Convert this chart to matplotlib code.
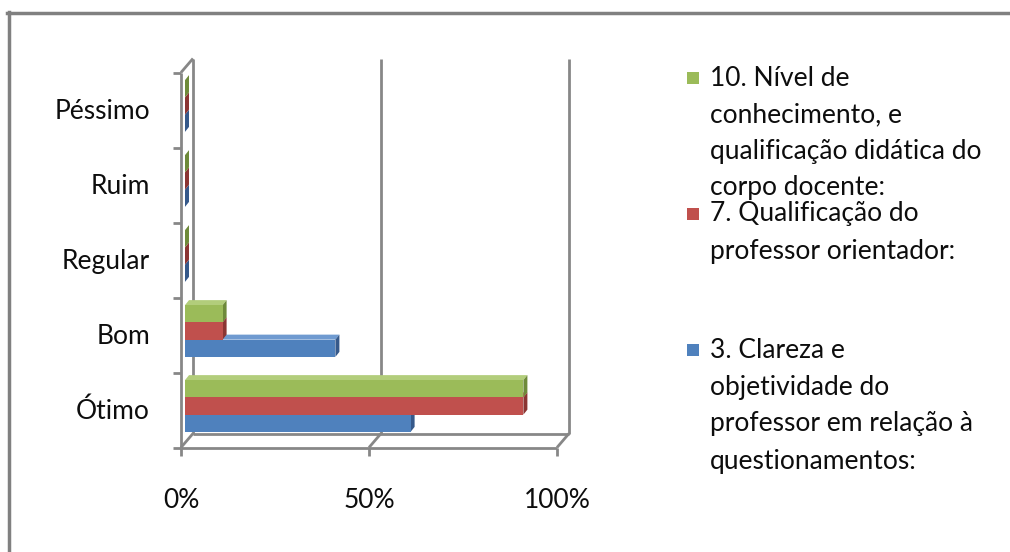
import matplotlib
matplotlib.use("Agg")
import matplotlib.pyplot as plt
from matplotlib.patches import Polygon
from matplotlib.lines import Line2D

# ---- data ----
categories = ["Ótimo", "Bom", "Regular", "Ruim", "Péssimo"]
series_names = [
    "3. Clareza e\nobjetividade do\nprofessor em relação à\nquestionamentos:",
    "7. Qualificação do\nprofessor orientador:",
    "10. Nível de\nconhecimento, e\nqualificação didática do\ncorpo docente:",
]
clareza = [60, 40, 0, 0, 0]
qualificacao = [90, 10, 0, 0, 0]
nivel = [90, 10, 0, 0, 0]
series_values = [clareza, qualificacao, nivel]
xticks = [0, 50, 100]
xtick_labels = ["0%", "50%", "100%"]

# ---- style ----
front_cols = ["#4F81BD", "#C0504D", "#9BBB59"]
side_cols = ["#36598A", "#8B3533", "#6E8A3A"]
top_cols = ["#6F9AD0", "#D2716E", "#B2CD7B"]
grid_col = "#878787"
FONT = "Lato"
FS = 19
TXT = "#0d0d0d"

W, H = 1010, 552
fig = plt.figure(figsize=(W / 100, H / 100), dpi=100)
ax = fig.add_axes([0, 0, 1, 1])
# pixel mapping: x=0 -> 181px, x=100 -> 557px ; y category i -> 410 - 75 i px
pxx = 3.76
pxy = 75.0
ax.set_xlim(-181 / pxx, (W - 181) / pxx)
ax.set_ylim((410 - H) / pxy, 410 / pxy)
ax.axis("off")

# depth offsets (data units)
wdx, wdy = 12 / pxx, 14 / pxy      # wall depth
bdx0, bdy0 = 4 / pxx, 4 / pxy      # bar front face offset
bdx, bdy = 4 / pxx, 5 / pxy        # bar depth

lw = 2.0
ylo, yhi = -0.5, len(categories) - 0.5

def line(xs, ys, **kw):
    ax.add_line(Line2D(xs, ys, color=grid_col, lw=lw, solid_capstyle="butt", zorder=1, **kw))

# back wall gridlines
for t in xticks[1:]:
    line([t + wdx, t + wdx], [ylo + wdy, yhi + wdy])
# left wall
line([0, 0], [ylo, yhi])
line([wdx, wdx], [ylo + wdy, yhi + wdy])
line([0, wdx], [yhi, yhi + wdy])
# floor
line([0, xticks[-1]], [ylo, ylo])
line([wdx, xticks[-1] + wdx], [ylo + wdy, ylo + wdy])
for t in xticks:
    line([t, t + wdx], [ylo, ylo + wdy])
    line([t, t], [ylo, ylo - 8 / pxy])
# y ticks
for k in range(len(categories) + 1):
    yy = ylo + k
    line([0, -8 / pxx], [yy, yy])

# bars
nser = len(series_values)
bh = 0.23
for j, vals in enumerate(series_values):
    for i, v in enumerate(vals):
        yb = i - nser * bh / 2 + j * bh + bdy0
        yt = yb + bh
        x0 = bdx0
        x1 = bdx0 + v
        ax.add_patch(Polygon([[x0, yt], [x1, yt], [x1 + bdx, yt + bdy], [x0 + bdx, yt + bdy]],
                             closed=True, facecolor=top_cols[j], edgecolor="none", zorder=2 + j))
        ax.add_patch(Polygon([[x1, yb], [x1, yt], [x1 + bdx, yt + bdy], [x1 + bdx, yb + bdy]],
                             closed=True, facecolor=side_cols[j], edgecolor="none", zorder=2 + j))
    ax.barh([i - nser * bh / 2 + j * bh + bdy0 + bh / 2 for i in range(len(vals))], vals,
            left=bdx0, height=bh, color=front_cols[j], edgecolor="none", zorder=2.5 + j)

# category labels
for i, c in enumerate(categories):
    ax.text(-31 / pxx, i - 0.02, c, ha="right", va="center", fontsize=FS, family=FONT, color=TXT)
# x tick labels
for t, lab in zip(xticks, xtick_labels):
    ax.text(t, -90 / pxy, lab, ha="center", va="center", fontsize=FS, family=FONT, color=TXT)

# legend (manual, order as in reference: last series on top)
leg_starts = {2: 78, 1: 214, 0: 350}
line_step = 37
for j in [2, 1, 0]:
    y0 = leg_starts[j]
    for k, txt in enumerate(series_names[j].split("\n")):
        yy = y0 + k * line_step
        if j == 2 and k == 3:
            yy = y0 + 110
        fig.text(710 / W, 1 - yy / H, txt, ha="left", va="center", fontsize=FS, family=FONT, color=TXT)
    fig.add_artist(plt.Rectangle((687 / W, 1 - (y0 + 6) / H), 12 / W, 12 / H,
                                 transform=fig.transFigure, facecolor=front_cols[j], edgecolor="none"))

# outer frame (top and left edges visible)
fig.add_artist(Line2D([7 / W, 1], [1 - 12.5 / H, 1 - 12.5 / H], transform=fig.transFigure,
                      color="#808080", lw=2.5))
fig.add_artist(Line2D([8.5 / W, 8.5 / W], [0, 1 - 12 / H], transform=fig.transFigure,
                      color="#808080", lw=2.5))

fig.savefig("out.png", dpi=100, facecolor="white")
